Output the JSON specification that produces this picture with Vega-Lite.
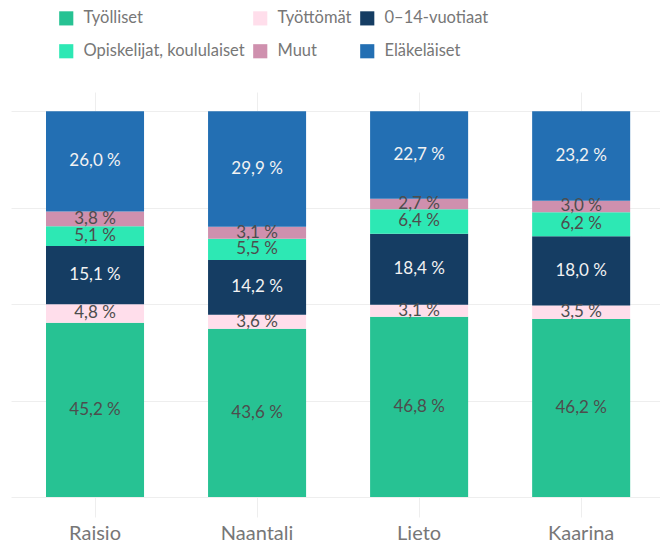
{
  "$schema": "https://vega.github.io/schema/vega-lite/v6.json",
  "width": 649,
  "height": 405,
  "autosize": {"type": "none"},
  "padding": {"left": 11, "top": 92, "right": 0, "bottom": 46},
  "background": "white",
  "config": {
    "view": {"stroke": null},
    "font": "Lato"
  },
  "data": {
    "values": [
      {"Kunta": "Raisio", "Ryhmä": "Työlliset", "ord": 1, "osuus": 45.2},
      {"Kunta": "Raisio", "Ryhmä": "Työttömät", "ord": 2, "osuus": 4.8},
      {"Kunta": "Raisio", "Ryhmä": "0–14-vuotiaat", "ord": 3, "osuus": 15.1},
      {"Kunta": "Raisio", "Ryhmä": "Opiskelijat, koululaiset", "ord": 4, "osuus": 5.1},
      {"Kunta": "Raisio", "Ryhmä": "Muut", "ord": 5, "osuus": 3.8},
      {"Kunta": "Raisio", "Ryhmä": "Eläkeläiset", "ord": 6, "osuus": 26.0},
      {"Kunta": "Naantali", "Ryhmä": "Työlliset", "ord": 1, "osuus": 43.6},
      {"Kunta": "Naantali", "Ryhmä": "Työttömät", "ord": 2, "osuus": 3.6},
      {"Kunta": "Naantali", "Ryhmä": "0–14-vuotiaat", "ord": 3, "osuus": 14.2},
      {"Kunta": "Naantali", "Ryhmä": "Opiskelijat, koululaiset", "ord": 4, "osuus": 5.5},
      {"Kunta": "Naantali", "Ryhmä": "Muut", "ord": 5, "osuus": 3.1},
      {"Kunta": "Naantali", "Ryhmä": "Eläkeläiset", "ord": 6, "osuus": 29.9},
      {"Kunta": "Lieto", "Ryhmä": "Työlliset", "ord": 1, "osuus": 46.8},
      {"Kunta": "Lieto", "Ryhmä": "Työttömät", "ord": 2, "osuus": 3.1},
      {"Kunta": "Lieto", "Ryhmä": "0–14-vuotiaat", "ord": 3, "osuus": 18.4},
      {"Kunta": "Lieto", "Ryhmä": "Opiskelijat, koululaiset", "ord": 4, "osuus": 6.4},
      {"Kunta": "Lieto", "Ryhmä": "Muut", "ord": 5, "osuus": 2.7},
      {"Kunta": "Lieto", "Ryhmä": "Eläkeläiset", "ord": 6, "osuus": 22.7},
      {"Kunta": "Kaarina", "Ryhmä": "Työlliset", "ord": 1, "osuus": 46.2},
      {"Kunta": "Kaarina", "Ryhmä": "Työttömät", "ord": 2, "osuus": 3.5},
      {"Kunta": "Kaarina", "Ryhmä": "0–14-vuotiaat", "ord": 3, "osuus": 18.0},
      {"Kunta": "Kaarina", "Ryhmä": "Opiskelijat, koululaiset", "ord": 4, "osuus": 6.2},
      {"Kunta": "Kaarina", "Ryhmä": "Muut", "ord": 5, "osuus": 3.0},
      {"Kunta": "Kaarina", "Ryhmä": "Eläkeläiset", "ord": 6, "osuus": 23.2}
    ]
  },
  "transform": [
    {"stack": "osuus", "groupby": ["Kunta"], "sort": [{"field": "ord", "order": "ascending"}], "offset": "normalize", "as": ["y0", "y1"]},
    {"calculate": "(datum.y0 + datum.y1) / 2", "as": "ymid"},
    {"calculate": "replace(format(datum.osuus, '.1f'), '.', ',') + ' %'", "as": "label"}
  ],
  "encoding": {
    "x": {
      "field": "Kunta",
      "type": "nominal",
      "sort": ["Raisio", "Naantali", "Lieto", "Kaarina"],
      "scale": {"paddingInner": 0.395, "paddingOuter": 0.2, "align": 0.54},
      "axis": {
        "title": null,
        "labelAngle": 0,
        "labelFontSize": 20,
        "labelColor": "#777777",
        "labelPadding": 6,
        "domain": false,
        "ticks": true,
        "tickSize": 20,
        "tickColor": "#eeeeee",
        "grid": true,
        "gridColor": "#eeeeee",
        "bandPosition": 0.5
      }
    }
  },
  "layer": [
    {
      "mark": {"type": "bar"},
      "encoding": {
        "y": {
          "field": "y0",
          "type": "quantitative",
          "scale": {"domain": [0, 1.05], "nice": false},
          "axis": {
            "title": null,
            "labels": false,
            "ticks": false,
            "domain": false,
            "grid": true,
            "gridColor": "#eeeeee",
            "values": [0, 0.25, 0.5, 0.75, 1]
          }
        },
        "y2": {"field": "y1"},
        "color": {
          "field": "Ryhmä",
          "type": "nominal",
          "scale": {
            "domain": ["Työlliset", "Työttömät", "0–14-vuotiaat", "Opiskelijat, koululaiset", "Muut", "Eläkeläiset"],
            "range": ["#27c293", "#ffdeeb", "#153d63", "#2de8b4", "#cf90ae", "#236fb3"]
          },
          "legend": {
            "title": null,
            "orient": "none",
            "legendX": 47,
            "legendY": -82,
            "direction": "horizontal",
            "columns": 3,
            "symbolType": "square",
            "symbolSize": 200,
            "symbolStrokeWidth": 0,
            "labelFontSize": 16.5,
            "labelColor": "#777777",
            "labelOffset": 9,
            "columnPadding": 7,
            "rowPadding": 16,
            "labelLimit": 300
          }
        }
      }
    },
    {
      "mark": {"type": "text", "fontSize": 17, "baseline": "middle", "align": "center"},
      "encoding": {
        "y": {"field": "ymid", "type": "quantitative"},
        "text": {"field": "label"},
        "color": {
          "condition": {"test": "datum['Ryhmä'] === 'Eläkeläiset' || datum['Ryhmä'] === '0–14-vuotiaat'", "value": "#f2f2f2"},
          "value": "#4d4d4d"
        }
      }
    }
  ]
}
